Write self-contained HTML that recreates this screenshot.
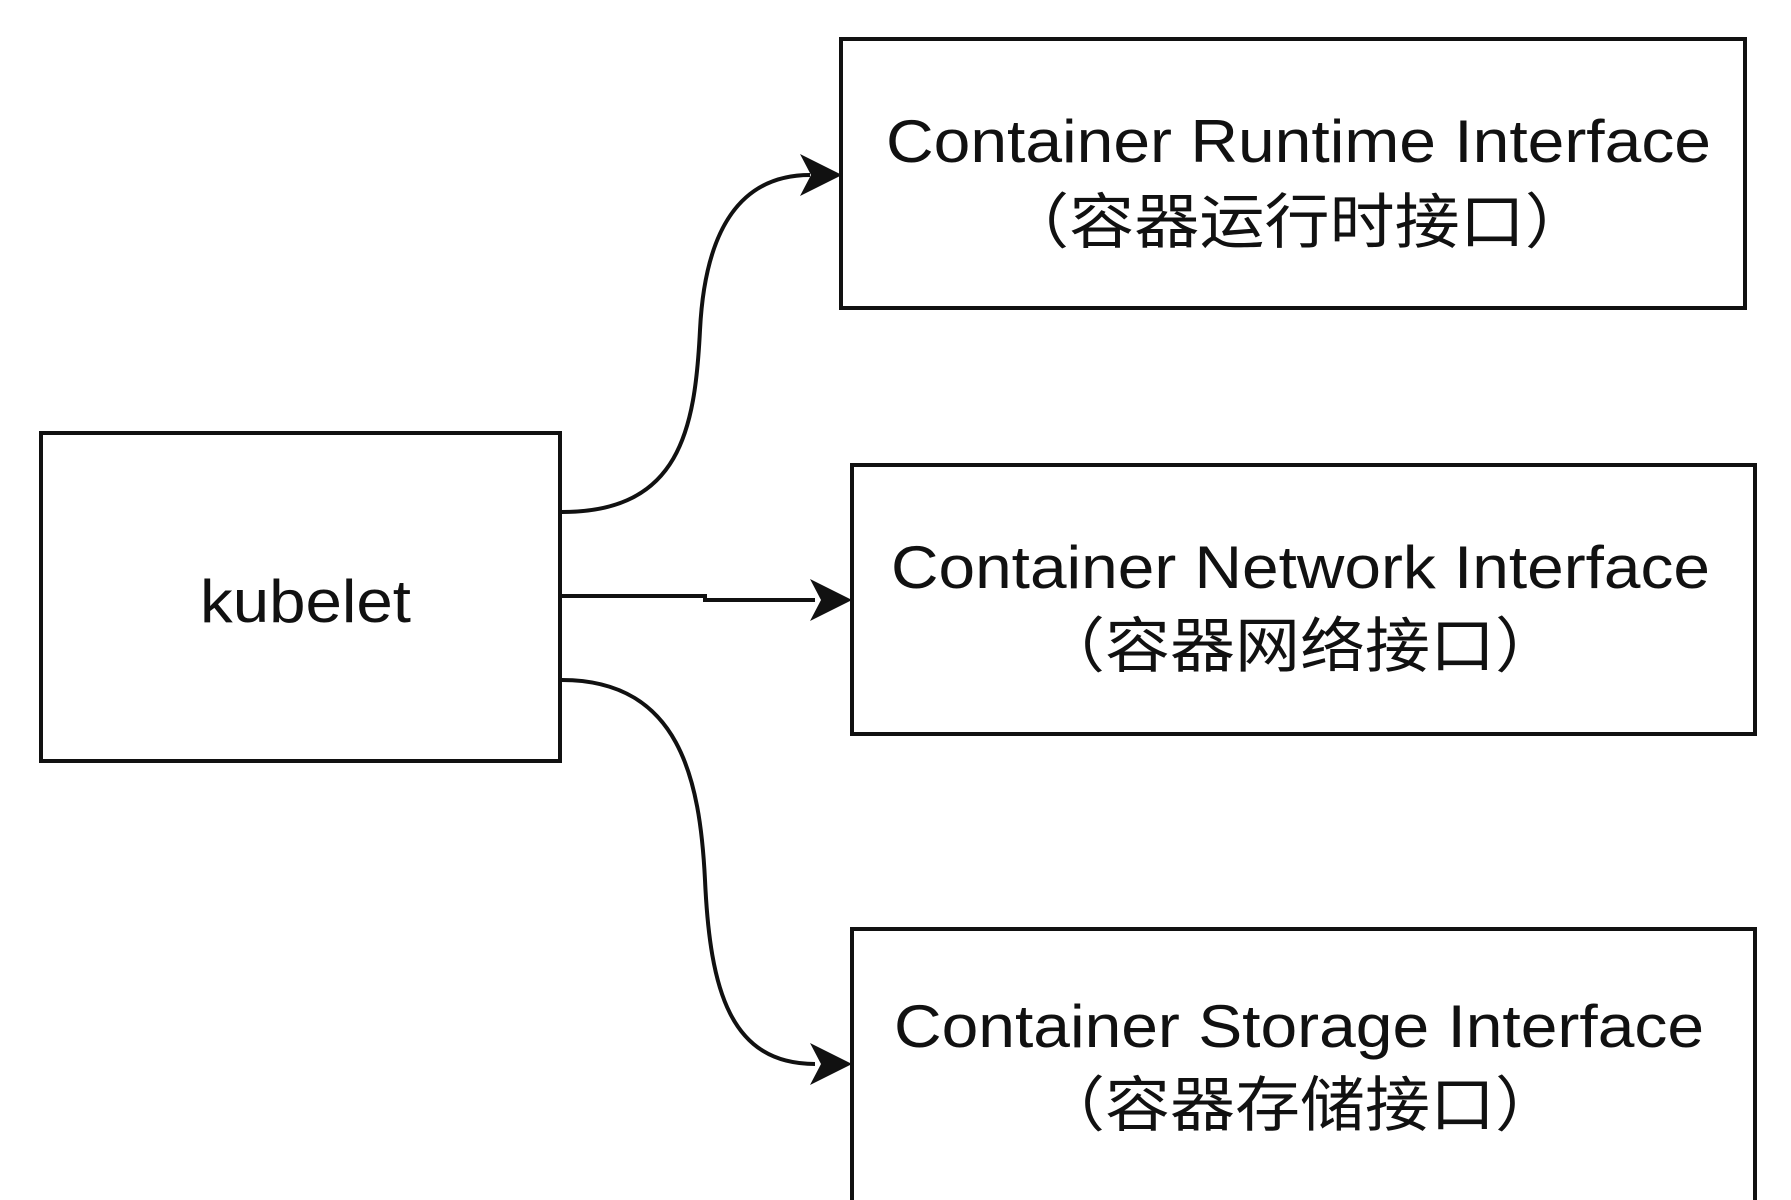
<!DOCTYPE html>
<html><head><meta charset="utf-8"><style>html,body{margin:0;padding:0;background:#fff;}svg{display:block}</style></head>
<body>
<svg width="1791" height="1200" viewBox="0 0 1791 1200" xmlns="http://www.w3.org/2000/svg">
<g fill="none" stroke="#111" stroke-width="4">
<rect x="841" y="39" width="904" height="269"/>
<rect x="41" y="433" width="519" height="328"/>
<rect x="852" y="465" width="903" height="269"/>
<path d="M852 1200 V929 H1755 V1200"/>
<path d="M562 512 C680 512 695 430 700 330 C705 230 740 175 810 175"/>
<path d="M562 596 H705 V600 H815"/>
<path d="M562 680 C680 680 700 780 705 880 C710 990 730 1064 815 1064"/>
</g>
<g fill="#111">
<path d="M842 175 L800 154 L811 175 L800 196 Z"/>
<path d="M852 600 L810 579 L821 600 L810 621 Z"/>
<path d="M852 1064 L810 1043 L821 1064 L810 1085 Z"/>
</g>
<g fill="#111" font-family="'Liberation Sans','Noto Sans CJK SC',sans-serif" font-size="60">
<text x="200" y="622" textLength="211" lengthAdjust="spacingAndGlyphs">kubelet</text>
<text x="886" y="162" textLength="825" lengthAdjust="spacingAndGlyphs">Container Runtime Interface</text>
<text x="1004" y="243" textLength="586" lengthAdjust="spacingAndGlyphs">（容器运行时接口）</text>
<text x="891" y="588" textLength="819" lengthAdjust="spacingAndGlyphs">Container Network Interface</text>
<text x="1040" y="667" textLength="520" lengthAdjust="spacingAndGlyphs">（容器网络接口）</text>
<text x="894" y="1047" textLength="810" lengthAdjust="spacingAndGlyphs">Container Storage Interface</text>
<text x="1040" y="1126" textLength="520" lengthAdjust="spacingAndGlyphs">（容器存储接口）</text>
</g>
</svg>
</body></html>
